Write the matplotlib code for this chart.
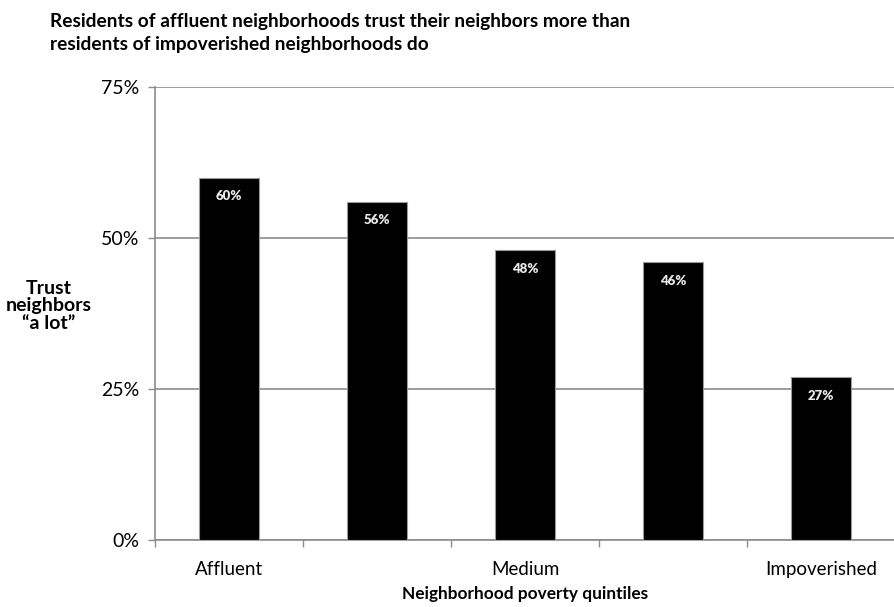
import numpy as np
import matplotlib.pyplot as plt
from matplotlib.ticker import FixedLocator, PercentFormatter

plt.rcParams['font.family'] = ['Lato', 'DejaVu Sans']

# neighborhood poverty quintiles, affluent -> impoverished
quintiles = ['Affluent', '', 'Medium', '', 'Impoverished']
trust_pct = [60, 56, 48, 46, 27]
bar_labels = ['60%', '56%', '48%', '46%', '27%']

fig = plt.figure(figsize=(8.95, 6.07), dpi=100)
ax = fig.add_axes([155/895, 67/607, 740/895, 453/607])

x = np.arange(len(trust_pct))
vals = np.array(trust_pct) / 100.0
bars = ax.bar(x, vals, width=0.41, color='black', edgecolor='#9a9a9a',
              linewidth=0.8, zorder=3)

for b, lab in zip(bars, bar_labels):
    ax.text(b.get_x() + b.get_width()/2, b.get_height() - 0.021, lab,
            ha='center', va='top', color='#e8e8e8', fontsize=9.5,
            fontweight='heavy', zorder=4)

ax.set_xlim(-0.5, len(x) - 0.5)
ax.set_ylim(0, 0.75)
ax.set_yticks([0, 0.25, 0.5, 0.75])
ax.yaxis.set_major_formatter(PercentFormatter(1.0, decimals=0))
ax.yaxis.grid(True, color='#8c8c8c', linewidth=1.2, zorder=0)

# boundary ticks between categories, names drawn as minor labels
ax.xaxis.set_major_locator(FixedLocator(np.arange(-0.5, len(x), 1.0)))
ax.set_xticklabels([])
ax.xaxis.set_minor_locator(FixedLocator(x))
ax.set_xticklabels(quintiles, minor=True, fontsize=13.5)
ax.tick_params(axis='x', which='minor', length=0, pad=15)
ax.tick_params(axis='x', which='major', length=5, color='#8c8c8c', width=1)
ax.tick_params(axis='y', length=5, color='#8c8c8c', width=1, labelsize=14, pad=6)

for s in ['top', 'right']:
    ax.spines[s].set_visible(False)
for s in ['left', 'bottom']:
    ax.spines[s].set_color('#8c8c8c')
    ax.spines[s].set_linewidth(1.2)

ax.set_xlabel('Neighborhood poverty quintiles', fontsize=12.4, fontweight='bold',
              labelpad=6)
fig.text(49/895, 1 - 306/607, 'Trust\nneighbors\n\u201ca lot\u201d', ha='center',
         va='center', fontsize=14, fontweight='bold', linespacing=1.05)

fig.text(50/895, 1 - 33/607,
         'Residents of affluent neighborhoods trust their neighbors more than\n'
         'residents of impoverished neighborhoods do',
         ha='left', va='center', fontsize=13.8, fontweight='bold', linespacing=1.45)

fig.savefig('out.png', dpi=100)
